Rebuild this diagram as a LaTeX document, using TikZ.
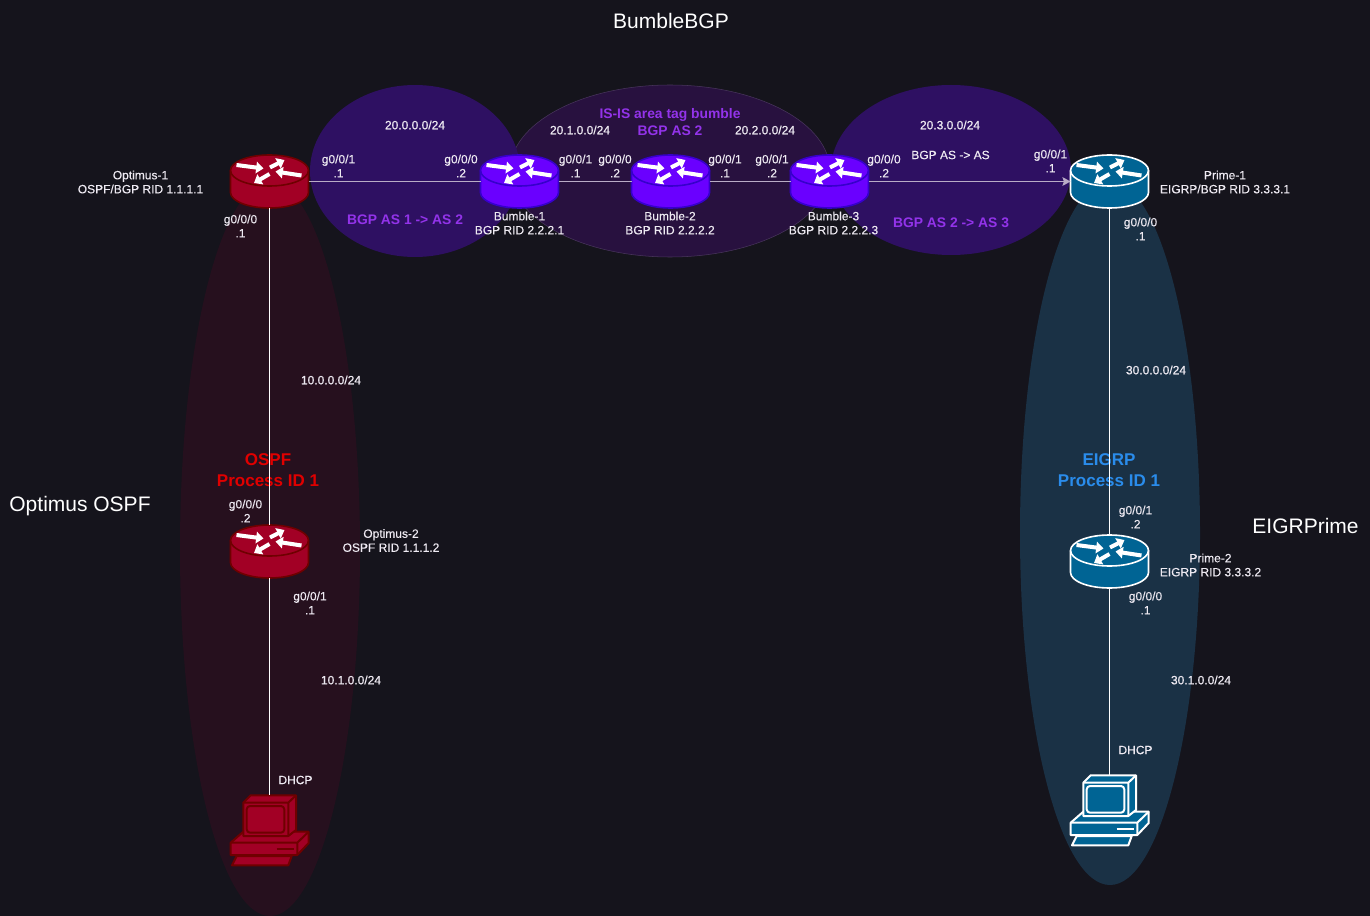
\documentclass[tikz,border=0pt]{standalone}
\usepackage{fontspec}
\setmainfont{Liberation Sans}
\newfontfamily\semib[FakeBold=0.25]{Liberation Sans}
\newfontfamily\medb[FakeBold=0.7]{Liberation Sans}
\usetikzlibrary{arrows.meta}
\definecolor{bgc}{HTML}{15141C}
\definecolor{redfill}{HTML}{A20025}
\definecolor{redline}{HTML}{6F0000}
\definecolor{purfill}{HTML}{6A00FF}
\definecolor{purline}{HTML}{3700CC}
\definecolor{blufill}{HTML}{006494}
\definecolor{txt}{HTML}{EEEAF2}
\definecolor{lnk}{HTML}{B9ACC6}
\definecolor{ellred}{HTML}{26101E}
\definecolor{ellblu}{HTML}{1A3145}
\definecolor{ellpur}{HTML}{2E1062}
\definecolor{ellmid}{HTML}{28113F}
\definecolor{lblpur}{HTML}{9333EA}
\definecolor{lblred}{HTML}{E00000}
\definecolor{lblblu}{HTML}{2A8CEB}
\tikzset{
  x=0.75pt,y=-0.75pt,
  lbl/.style={text=txt,font=\fontsize{9}{10.5}\selectfont\medb,align=center,inner sep=0pt},
  lblb/.style={text=txt,font=\fontsize{9}{10.5}\selectfont\semib,align=center,inner sep=0pt},
  big/.style={text=white,font=\fontsize{15.75}{18}\selectfont,inner sep=0pt},
  proto/.style={font=\fontsize{12.75}{15.5}\selectfont\bfseries,align=center,inner sep=0pt},
  bgpl/.style={text=lblpur,font=\fontsize{10.4}{12.5}\selectfont\bfseries,align=center,inner sep=0pt},
  anchorbox/.style={minimum width=58.5pt,minimum height=39.75pt,inner sep=0pt,outer sep=0pt},
  wire/.style={line width=0.8pt},
  hwire/.style={line width=1pt,lnk},
  ar/.style={white,line width=3pt,-{Triangle[length=5.5pt,width=8.5pt]},shorten >=0pt},
}
\newcommand{\routerpic}[5]{% name, x, y, fill, line
  \node[anchorbox] (#1) at (#2,#3) {};
  \begin{scope}[shift={(#2,#3)}]
    \path[fill=#4,draw=#5,line width=1.2pt] (-39,-11) -- (-39,11) arc[start angle=180,end angle=0,x radius=39,y radius=15.5] -- (39,-11) arc[start angle=0,end angle=-180,x radius=39,y radius=15.5] -- cycle;
    \draw[#5,line width=1.2pt] (-39,-11) arc[start angle=180,end angle=0,x radius=39,y radius=15.5];
    \draw[ar] (-33,-16.5) -- (-6,-13);
    \draw[ar] (0.5,-14) -- (15,-21.5);
    \draw[ar] (32,-6) -- (6,-10);
    \draw[ar] (0,-7.5) -- (-15.5,1.5);
  \end{scope}}
\newcommand{\pcpic}[5]{% name,x,y,fill,line
  \node[anchorbox] (#1) at (#2,#3) {};
  \begin{scope}[shift={(#2,#3)},line width=1.5pt,line join=round,draw=#5,fill=#4]
    \filldraw (-32.8,25.5) -- (22.2,25.5) -- (18.8,34.8) -- (-37.5,34.8) -- cycle;
    \filldraw (-38.8,12.2) -- (-26.2,1.2) -- (39.2,1.2) -- (39.2,12.5) -- (27.8,24.5) -- (-38.8,24.5) -- cycle;
    \draw (-38.8,12.2) -- (27.8,12.2) -- (27.8,24.5) (27.8,12.2) -- (39.2,1.2);
    \draw (7.2,18.8) -- (24.5,18.8);
    \filldraw (-26.2,-27.8) -- (-18.8,-35.2) -- (26.5,-35.2) -- (26.5,-0.5) -- (18.8,5.5) -- (-26.2,5.5) -- cycle;
    \draw (-26.2,-27.8) -- (18.8,-27.8) -- (18.8,5.5) (18.8,-27.8) -- (26.5,-35.2);
    \draw[rounded corners=2.5pt] (-22.8,-24.5) rectangle (14.8,2.2);
  \end{scope}}
\begin{document}
\begin{tikzpicture}
\useasboundingbox (0,0) rectangle (1370,916);
\fill[bgc] (0,0) rectangle (1370,916);
% groups
\fill[ellred] (270,549) ellipse[x radius=90,y radius=367];
\fill[ellblu] (1110,533) ellipse[x radius=90,y radius=352];
\path[fill=ellmid,draw=ellmid!85!white] (670,171) ellipse[x radius=160,y radius=86];
\fill[ellpur] (415,171) ellipse[x radius=105,y radius=86];
\fill[ellpur] (951,170) ellipse[x radius=120,y radius=85];
% protocol labels lie under the links
\node[proto,text=lblred] (t4) at (268,470) {OSPF\\Process ID 1};
\node[proto,text=lblblu] (t5) at (1109,470) {EIGRP\\Process ID 1};
% devices
\routerpic{opt1}{269.5}{181.5}{redfill}{redline}
\routerpic{opt2}{269.5}{551.5}{redfill}{redline}
\routerpic{bum1}{519.5}{181.5}{purfill}{purline}
\routerpic{bum2}{670.5}{181.5}{purfill}{purline}
\routerpic{bum3}{829.5}{181.5}{purfill}{purline}
\routerpic{pri1}{1109.5}{181.5}{blufill}{white}
\routerpic{pri2}{1109.5}{561.5}{blufill}{white}
\pcpic{pc1}{269.5}{830.5}{redfill}{redline}
\pcpic{pc2}{1109.5}{810.5}{blufill}{white}
% links
\draw[hwire] (opt1.east) -- (bum1.west);
\draw[hwire] (bum1.east) -- (bum2.west);
\draw[hwire] (bum2.east) -- (bum3.west);
\draw[hwire,-{Stealth[length=6pt,width=6.5pt,inset=1pt]}] (bum3.east) -- (pri1.west);
\draw[wire,white] (opt1.south) -- (opt2.north);
\draw[wire,white] (opt2.south) -- ([yshift=26.4pt]pc1.center);
\draw[wire,white] (pri1.south) -- (pri2.north);
\draw[wire,white] (pri2.south) -- ([yshift=26.4pt]pc2.center);
% titles
\node[big] (t1) at (671,21) {BumbleBGP};
\node[big] (t2) at (80,506) {Optimus OSPF};
\node[big] (t3) at (1305.5,525.5) {EIGRPrime};
\node[bgpl] (t6) at (670,122) {IS-IS area tag bumble\\BGP AS 2};
\node[bgpl] (t7) at (405,220) {BGP AS 1 -> AS 2};
\node[bgpl] (t8) at (951,223) {BGP AS 2 -> AS 3};
% nets
\node[lbl] (n1) at (415,125) {20.0.0.0/24};
\node[lbl] (n2) at (580,130) {20.1.0.0/24};
\node[lbl] (n3) at (765,130) {20.2.0.0/24};
\node[lbl] (n4) at (950,125) {20.3.0.0/24};
\node[lbl] (n5) at (331,380) {10.0.0.0/24};
\node[lbl] (n6) at (351,680) {10.1.0.0/24};
\node[lbl] (n7) at (1156,370) {30.0.0.0/24};
\node[lbl] (n8) at (1201,680) {30.1.0.0/24};
\node[lblb] (n9) at (950.5,155) {BGP AS -> AS};
% device names
\node[lblb] (d1) at (140.5,182) {Optimus-1\\OSPF/BGP RID 1.1.1.1};
\node[lblb] (d2) at (391,540.5) {Optimus-2\\OSPF RID 1.1.1.2};
\node[lblb] (d3) at (519.5,223) {Bumble-1\\BGP RID 2.2.2.1};
\node[lblb] (d4) at (670,223) {Bumble-2\\BGP RID 2.2.2.2};
\node[lblb] (d5) at (833.5,223) {Bumble-3\\BGP RID 2.2.2.3};
\node[lblb] (d6) at (1225,182) {Prime-1\\EIGRP/BGP RID 3.3.3.1};
\node[lblb] (d7) at (1210.5,565) {Prime-2\\EIGRP RID 3.3.3.2};
\node[lblb] (d8) at (295.5,780) {DHCP};
\node[lblb] (d9) at (1135.5,750) {DHCP};
% interfaces
\node[lblb] (i1) at (338.5,166) {g0/0/1\\.1};
\node[lblb] (i2) at (461,166) {g0/0/0\\.2};
\node[lblb] (i3) at (575.5,166) {g0/0/1\\.1};
\node[lblb] (i4) at (615,166) {g0/0/0\\.2};
\node[lblb] (i5) at (725,166) {g0/0/1\\.1};
\node[lblb] (i6) at (772,166) {g0/0/1\\.2};
\node[lblb] (i7) at (884,166) {g0/0/0\\.2};
\node[lblb] (i8) at (1050.5,161) {g0/0/1\\.1};
\node[lblb] (i9) at (240.5,226) {g0/0/0\\.1};
\node[lblb] (i10) at (245.5,511) {g0/0/0\\.2};
\node[lblb] (i11) at (310,603) {g0/0/1\\.1};
\node[lblb] (i12) at (1140.5,229) {g0/0/0\\.1};
\node[lblb] (i13) at (1135.5,517) {g0/0/1\\.2};
\node[lblb] (i14) at (1145.5,603) {g0/0/0\\.1};
\end{tikzpicture}
\end{document}
